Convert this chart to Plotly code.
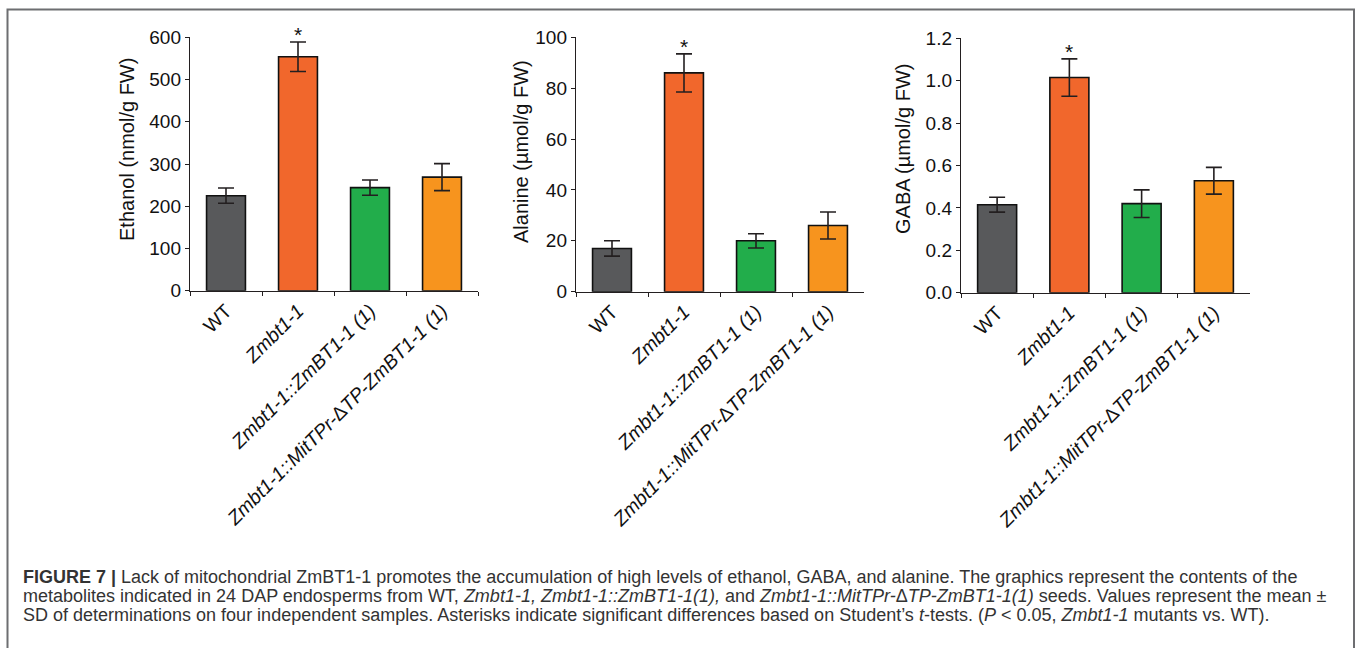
import plotly.graph_objects as go

W, H = 1358, 648

categories = ["WT", "Zmbt1-1", "Zmbt1-1::ZmBT1-1 (1)", "Zmbt1-1::MitTPr-ΔTP-ZmBT1-1 (1)"]
tick_labels = ["WT", "<i>Zmbt1-1</i>", "<i>Zmbt1-1::ZmBT1-1 (1)</i>",
               "<i>Zmbt1-1::MitTPr-</i>Δ<i>TP-ZmBT1-1 (1)</i>"]
bar_colors = ["#58595b", "#f1672c", "#22ad4b", "#f7941e"]

ethanol = [225, 554, 244, 269]
ethanol_sd = [18, 35, 18, 32]
alanine = [17, 86, 20, 26]
alanine_sd = [3, 7.5, 2.8, 5.3]
gaba = [0.415, 1.015, 0.42, 0.528]
gaba_sd = [0.035, 0.088, 0.065, 0.063]
significant = [False, True, False, False]

panels = [
    dict(vals=ethanol, sd=ethanol_sd, title="Ethanol (nmol/g FW)", rng=[0, 600], dtick=100,
         fmt="", xpx=(190, 478), ypx=(290.7, 37.3), tpx=(127, 150)),
    dict(vals=alanine, sd=alanine_sd, title="Alanine (µmol/g FW)", rng=[0, 100], dtick=20,
         fmt="", xpx=(576, 864), ypx=(291.7, 37.3), tpx=(521, 152)),
    dict(vals=gaba, sd=gaba_sd, title="GABA (µmol/g FW)", rng=[0, 1.2], dtick=0.2,
         fmt=".1f", xpx=(961, 1250), ypx=(292.7, 38.3), tpx=(903, 149)),
]

AX = "#231f20"
fig = go.Figure()
layout = dict(
    width=W, height=H, margin=dict(l=0, r=0, t=0, b=0, pad=0), autosize=False,
    paper_bgcolor="white", plot_bgcolor="white", showlegend=False,
    font=dict(family="Liberation Sans, Arial, sans-serif", color=AX),
)
annotations = []
for i, p in enumerate(panels):
    n = "" if i == 0 else str(i + 1)
    fig.add_trace(go.Bar(
        x=categories, y=p["vals"], xaxis="x" + n, yaxis="y" + n, width=0.54,
        marker=dict(color=bar_colors, line=dict(color="#111", width=1.6)),
        error_y=dict(type="data", array=p["sd"], color=AX, thickness=1.6, width=8),
    ))
    layout["xaxis" + n] = dict(
        domain=[p["xpx"][0] / W, p["xpx"][1] / W], anchor="y" + n, automargin=False,
        type="category", range=[-0.5, 3.5], tickson="boundaries",
        tickvals=categories, ticktext=tick_labels, tickangle=-45,
        ticks="outside", ticklen=4, tickwidth=1.3, tickcolor=AX,
        showline=True, linecolor=AX, linewidth=1.4, showgrid=False,
        tickfont=dict(size=19.5, color="#111"),
    )
    layout["yaxis" + n] = dict(
        domain=[1 - p["ypx"][0] / H, 1 - p["ypx"][1] / H], anchor="x" + n, automargin=False,
        range=p["rng"], dtick=p["dtick"], tick0=0, tickformat=p["fmt"],
        ticks="outside", ticklen=4, tickwidth=1.3, tickcolor=AX,
        showline=True, linecolor=AX, linewidth=1.4, showgrid=False, zeroline=False,
        tickfont=dict(size=19, color="#111"),
    )
    annotations.append(dict(
        text=p["title"], textangle=-90, x=p["tpx"][0] / W, y=1 - p["tpx"][1] / H,
        xref="paper", yref="paper", xanchor="center", yanchor="middle",
        showarrow=False, font=dict(size=20, color="#111"),
    ))
    for c, v, s, sig in zip(categories, p["vals"], p["sd"], significant):
        if sig:
            annotations.append(dict(
                text="*", x=c, y=v + s, xref="x" + n, yref="y" + n,
                xanchor="center", yanchor="bottom", yshift=-6, showarrow=False,
                font=dict(size=21, color="#111"),
            ))

cap_lines = [
    "<b>FIGURE 7 |</b> Lack of mitochondrial ZmBT1-1 promotes the accumulation of high levels of ethanol, GABA, and alanine. The graphics represent the contents of the",
    "metabolites indicated in 24 DAP endosperms from WT, <i>Zmbt1-1, Zmbt1-1::ZmBT1-1(1),</i> and <i>Zmbt1-1::MitTPr-</i>Δ<i>TP-ZmBT1-1(1)</i> seeds. Values represent the mean ±",
    "SD of determinations on four independent samples. Asterisks indicate significant differences based on Student’s <i>t</i>-tests. (<i>P</i> &lt; 0.05, <i>Zmbt1-1</i> mutants vs. WT).",
]
cap_y = [577, 596, 615]
for t, yy in zip(cap_lines, cap_y):
    annotations.append(dict(
        text=t, x=21 / W, y=1 - yy / H, xref="paper", yref="paper",
        xanchor="left", yanchor="middle", showarrow=False, align="left",
        font=dict(size=18, color="#333", family="Liberation Sans, Arial, sans-serif"),
    ))

layout["annotations"] = annotations
layout["shapes"] = [dict(
    type="rect", xref="paper", yref="paper",
    x0=7.5 / W, x1=1354 / W, y0=-0.05, y1=1 - 9.5 / H,
    line=dict(color="#6d6e71", width=2), fillcolor="rgba(0,0,0,0)",
)]
fig.update_layout(**layout)
fig.write_html("out.html")
